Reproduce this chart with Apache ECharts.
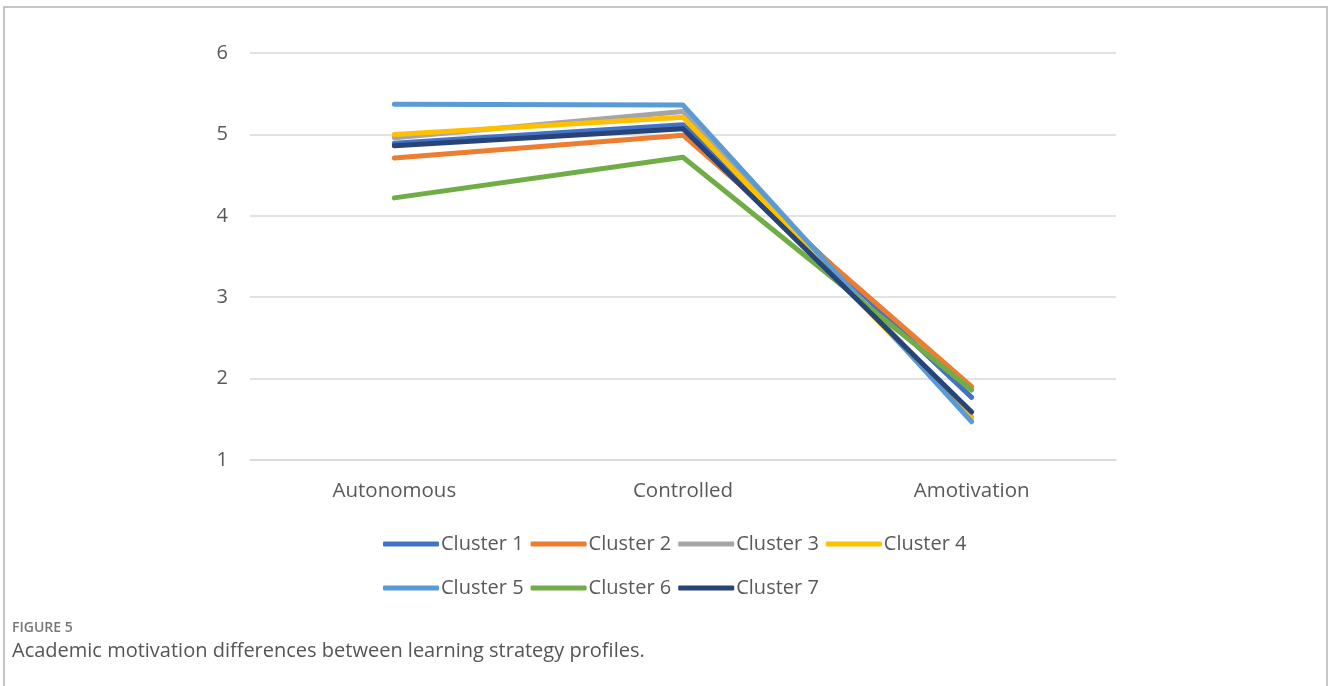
<!DOCTYPE html>
<html>
<head>
<meta charset="utf-8">
<script src="https://cdn.jsdelivr.net/npm/echarts@6/dist/echarts.min.js"></script>
<style>
html,body{margin:0;padding:0;background:#fff;}
#chart{width:1328px;height:686px;}
</style>
</head>
<body>
<div id="chart"></div>
<script>
const categories = ['Autonomous', 'Controlled', 'Amotivation'];
const seriesNames = ['Cluster 1', 'Cluster 2', 'Cluster 3', 'Cluster 4', 'Cluster 5', 'Cluster 6', 'Cluster 7'];
const cluster1 = [4.89, 5.12, 1.77];
const cluster2 = [4.71, 4.99, 1.90];
const cluster3 = [4.96, 5.28, 1.53];
const cluster4 = [5.00, 5.21, 1.51];
const cluster5 = [5.37, 5.36, 1.47];
const cluster6 = [4.22, 4.72, 1.86];
const cluster7 = [4.86, 5.07, 1.59];
const yTicks = [1, 2, 3, 4, 5, 6];
const colors = ['#4472C4', '#ED7D31', '#A5A5A5', '#FFC000', '#5B9BD5', '#70AD47', '#264478'];

const values = [cluster1, cluster2, cluster3, cluster4, cluster5, cluster6, cluster7];
const font = 'Open Sans';
const chart = echarts.init(document.getElementById('chart'), null, {renderer: 'canvas'});

const legendCommon = {
  orient: 'horizontal',
  left: 383,
  padding: 0,
  itemWidth: 56,
  itemHeight: 5,
  itemGap: 7,
  icon: 'roundRect',
  textStyle: {fontFamily: font, fontSize: 20, color: '#595959', padding: [0, 0, 0, -3]},
  selectedMode: false
};

chart.setOption({
  animation: false,
  color: colors,
  textStyle: {fontFamily: font},
  grid: {left: 250, right: 212, top: 53, bottom: 226, containLabel: false},
  xAxis: {
    type: 'category',
    data: categories,
    boundaryGap: true,
    axisLine: {show: true, lineStyle: {color: '#d9d9d9', width: 1.5}},
    axisTick: {show: false},
    axisLabel: {fontFamily: font, fontSize: 20.5, color: '#595959', margin: 21}
  },
  yAxis: {
    type: 'value',
    min: yTicks[0],
    max: yTicks[yTicks.length - 1],
    interval: 1,
    axisLine: {show: false},
    axisTick: {show: false},
    splitLine: {lineStyle: {color: '#d9d9d9', width: 1.5}},
    axisLabel: {fontFamily: font, fontSize: 20, color: '#595959', margin: 22}
  },
  legend: [
    Object.assign({}, legendCommon, {top: 534, data: seriesNames.slice(0, 4)}),
    Object.assign({}, legendCommon, {top: 578, data: seriesNames.slice(4)})
  ],
  title: [
    {text: 'FIGURE 5', left: 12, top: 621, padding: 0, textStyle: {fontFamily: font, fontSize: 14, fontWeight: 600, color: '#777'}},
    {text: 'Academic motivation differences between learning strategy profiles.', left: 12, top: 641, padding: 0, textStyle: {fontFamily: font, fontSize: 20, fontWeight: 'normal', color: '#555'}}
  ],
  graphic: [{
    type: 'polyline',
    shape: {points: [[4, 686], [4, 7], [1327, 7], [1327, 686]]},
    style: {stroke: '#b3b3b3', lineWidth: 1.5, fill: null},
    silent: true
  }],
  series: seriesNames.map((name, i) => ({
    name: name,
    type: 'line',
    data: values[i],
    symbol: 'none',
    lineStyle: {width: 5, cap: 'round', join: 'round', color: colors[i]},
    itemStyle: {color: colors[i]}
  }))
});
</script>
</body>
</html>
